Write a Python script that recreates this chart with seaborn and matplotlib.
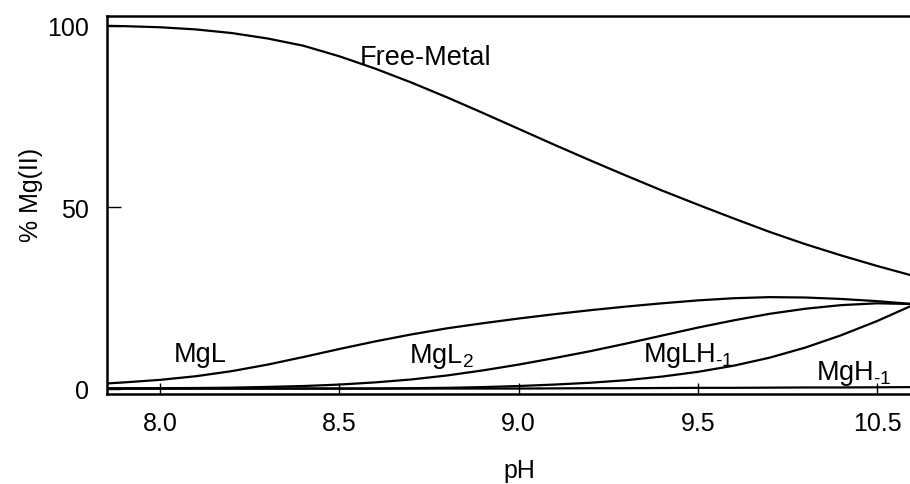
import numpy as np
import pandas as pd
import matplotlib
matplotlib.use("Agg")
import matplotlib.pyplot as plt
import seaborn as sns

# pH readings and % of Mg(II) in each species
ph = [7.85, 7.9, 8.0, 8.1, 8.2, 8.3, 8.4, 8.5, 8.6, 8.7, 8.8, 8.9,
      9.0, 9.1, 9.2, 9.3, 9.4, 9.5, 9.6, 9.7, 9.8, 9.9, 10.0, 10.1]

free_metal = [100.0, 99.9, 99.6, 99.0, 98.0, 96.5, 94.5, 91.6, 88.2, 84.4, 80.3, 76.0,
              71.6, 67.2, 62.9, 58.7, 54.6, 50.7, 46.9, 43.2, 39.8, 36.7, 33.8, 31.1]
mgl = [1.4, 1.7, 2.4, 3.4, 4.8, 6.6, 8.7, 10.9, 13.0, 14.9, 16.6, 18.0,
       19.3, 20.5, 21.6, 22.6, 23.5, 24.3, 24.9, 25.2, 25.1, 24.7, 24.1, 23.3]
mgl2 = [0.05, 0.05, 0.1, 0.15, 0.25, 0.45, 0.7, 1.1, 1.7, 2.5, 3.6, 5.0,
        6.6, 8.4, 10.3, 12.4, 14.6, 16.8, 18.8, 20.6, 22.0, 23.0, 23.5, 23.3]
mglh = [0.0, 0.0, 0.0, 0.0, 0.0, 0.0, 0.0, 0.0, 0.0, 0.1, 0.2, 0.4,
        0.7, 1.1, 1.6, 2.3, 3.3, 4.6, 6.3, 8.5, 11.3, 14.7, 18.6, 23.0]
mgh = [0.0, 0.0, 0.0, 0.0, 0.0, 0.0, 0.0, 0.0, 0.0, 0.0, 0.0, 0.0,
       0.0, 0.05, 0.1, 0.1, 0.15, 0.2, 0.2, 0.25, 0.3, 0.3, 0.35, 0.4]

species = ["Free-Metal", "MgL", "MgL2", "MgLH-1", "MgH-1"]
labels = ["Free-Metal", "MgL", "MgL$_{2}$",
          "MgLH$_{\\mathregular{\u2010}1}$", "MgH$_{\\mathregular{\u2010}1}$"]
label_x = [8.558, 8.037, 8.695, 9.346, 9.830]
label_y = [89.4, 7.7, 7.4, 7.7, 2.6]

xticks = [8.0, 8.5, 9.0, 9.5, 10.0]
xticklabels = ["8.0", "8.5", "9.0", "9.5", "10.5"]
yticks = [0, 50, 100]

df = pd.DataFrame({
    "pH": ph * 5,
    "pct": free_metal + mgl + mgl2 + mglh + mgh,
    "species": np.repeat(species, len(ph)),
})

sns.set_style("ticks")
plt.rcParams["font.family"] = ["Liberation Sans", "DejaVu Sans"]
plt.rcParams["mathtext.fontset"] = "custom"
plt.rcParams["mathtext.rm"] = "Liberation Sans"
plt.rcParams["mathtext.it"] = "Liberation Sans"
for key in ["text.color", "axes.labelcolor", "xtick.color", "ytick.color"]:
    plt.rcParams[key] = "black"

fig = plt.figure(figsize=(9.1, 4.85), dpi=100)
ax = fig.add_axes([107 / 910, 90 / 485, 803 / 910, 378 / 485])

sns.lineplot(data=df, x="pH", y="pct", units="species", estimator=None,
             color="black", linewidth=1.6, ax=ax)

for lab, lx, ly in zip(labels, label_x, label_y):
    ax.text(lx, ly, lab, fontsize=19.5, ha="left", va="baseline", color="black")

ax.set_xlim(7.852, 10.092)
ax.set_ylim(-1.5, 102.7)
ax.set_xticks(xticks)
ax.set_xticklabels(xticklabels)
ax.set_yticks(yticks)
ax.tick_params(axis="x", direction="in", length=8, width=1, labelsize=18, pad=12)
ax.tick_params(axis="y", direction="in", length=10, width=1, labelsize=18, pad=13)

ax.set_xlabel("pH", fontsize=18)
ax.set_ylabel("% Mg(II)", fontsize=18)
ax.xaxis.set_label_coords(0.514, -0.17)
ax.yaxis.set_label_coords(-0.08, 0.53)

for side in ["left", "bottom", "top"]:
    ax.spines[side].set_linewidth(1.8)
    ax.spines[side].set_color("black")
ax.spines["right"].set_visible(False)

fig.savefig("out.png", dpi=100)
